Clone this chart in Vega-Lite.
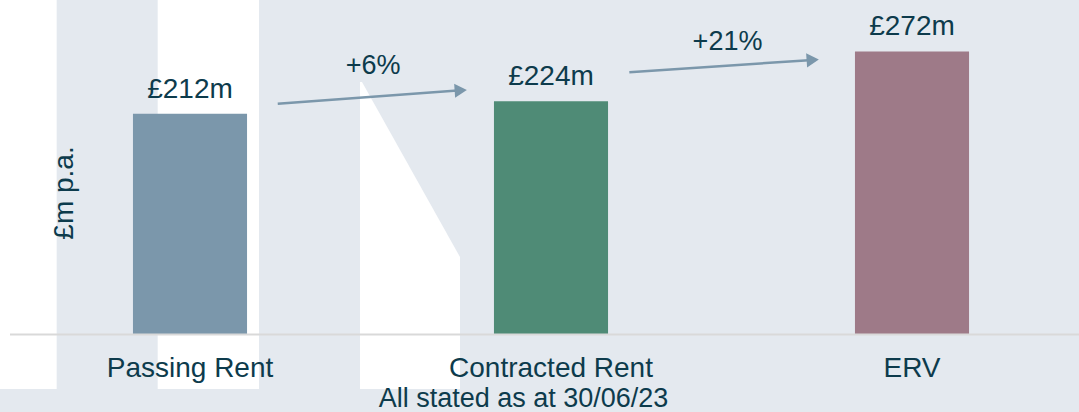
{
  "$schema": "https://vega.github.io/schema/vega-lite/v6.json",
  "width": 1079,
  "height": 334,
  "autosize": "none",
  "padding": {"left": 0, "top": 0, "right": 0, "bottom": 78},
  "background": "#e4e9ef",
  "config": {"view": {"stroke": null}, "font": "Liberation Sans"},
  "datasets": {
    "bars": [
      {"category": "Passing Rent", "value": 212, "label": "£212m"},
      {"category": "Contracted Rent", "value": 224, "label": "£224m"},
      {"category": "ERV", "value": 272, "label": "£272m"}
    ],
    "decor": [
      {"x0": -0.05, "x1": 0.1307, "y0": -53.0, "y1": 322},
      {"x0": 0.4105, "x1": 0.6911, "y0": -53.0, "y1": 322}
    ],
    "wedge": [
      {"x": 0.9709, "top": 242.6, "bottom": -53.0},
      {"x": 0.9765, "top": 242.6, "bottom": -53.0},
      {"x": 1.2479, "top": 74.1, "bottom": -53.0}
    ],
    "arrows": [
      {"x0": 0.743, "y0": 221.7, "x1": 1.250, "y1": 234.6, "lx": 1.007, "ly": 250.0, "label": "+6%"},
      {"x0": 1.717, "y0": 252.0, "x1": 2.225, "y1": 263.9, "lx": 1.989, "ly": 273.4, "label": "+21%"}
    ]
  },
  "resolve": {"scale": {"x": "independent"}, "axis": {"y": "independent", "x": "independent"}},
  "layer": [
    {
      "data": {"name": "decor"},
      "mark": {"type": "rect", "color": "#ffffff"},
      "encoding": {
        "x": {"field": "x0", "type": "quantitative", "scale": {"domain": [0, 3], "range": [9.5, 1092.5], "nice": false, "zero": false}, "axis": null},
        "x2": {"field": "x1"},
        "y": {"field": "y0", "type": "quantitative", "scale": {"domain": [0, 321.6], "nice": false, "zero": false}, "axis": null},
        "y2": {"field": "y1"}
      }
    },
    {
      "data": {"name": "wedge"},
      "mark": {"type": "area", "color": "#ffffff", "orient": "vertical"},
      "encoding": {
        "x": {"field": "x", "type": "quantitative", "scale": {"domain": [0, 3], "range": [9.5, 1092.5], "nice": false, "zero": false}, "axis": null},
        "y": {"field": "top", "type": "quantitative", "scale": {"domain": [0, 321.6], "nice": false, "zero": false}, "axis": null},
        "y2": {"field": "bottom"}
      }
    },
    {
      "data": {"name": "bars"},
      "encoding": {
        "x": {
          "field": "category", "type": "nominal", "sort": null,
          "scale": {"range": [9.5, 1092.5], "paddingInner": 0.684, "paddingOuter": 0.342},
          "axis": {
            "title": "All stated as at 30/06/23",
            "titleX": 523, "titleY": 72.7, "titleBaseline": "alphabetic", "titleAlign": "center",
            "titleFontSize": 27, "titleFontWeight": "normal", "titleColor": "#0d3b4c", "titleFont": "Liberation Sans",
            "labelAngle": 0, "labelFontSize": 28, "labelColor": "#0d3b4c", "labelFont": "Liberation Sans",
            "labelPadding": 42.7, "labelBaseline": "alphabetic", "labelLimit": 500, "labelOverlap": false,
            "ticks": false, "domainColor": "#d9d9d9", "domainWidth": 2, "zindex": 1
          }
        },
        "y": {
          "field": "value", "type": "quantitative",
          "scale": {"domain": [0, 321.6], "nice": false, "zero": false},
          "axis": {
            "title": "£m p.a.", "domain": false, "ticks": false, "labels": false, "grid": false,
            "titleX": 72, "titleY": 192.5, "titleAngle": 270, "titleAlign": "center", "titleBaseline": "alphabetic",
            "titleFontSize": 28, "titleFontWeight": "normal", "titleColor": "#0d3b4c", "titleFont": "Liberation Sans", "zindex": 1
          }
        }
      },
      "layer": [
        {
          "mark": {"type": "bar"},
          "encoding": {
            "color": {
              "field": "category", "type": "nominal", "sort": null,
              "scale": {"domain": ["Passing Rent", "Contracted Rent", "ERV"], "range": ["#7b97ab", "#4f8b76", "#9e7a88"]},
              "legend": null
            }
          }
        },
        {
          "mark": {"type": "text", "dy": -16.3, "baseline": "alphabetic", "align": "center", "fontSize": 28, "color": "#0d3b4c", "font": "Liberation Sans"},
          "encoding": {
            "text": {"field": "label"}
          }
        }
      ]
    },
    {
      "data": {"name": "arrows"},
      "layer": [
        {
          "mark": {"type": "rule", "color": "#7b97ab", "strokeWidth": 2.5},
          "encoding": {
            "x": {"field": "x0", "type": "quantitative", "scale": {"domain": [0, 3], "range": [9.5, 1092.5], "nice": false, "zero": false}, "axis": null},
            "x2": {"field": "x1"},
            "y": {"field": "y0", "type": "quantitative", "scale": {"domain": [0, 321.6], "nice": false, "zero": false}, "axis": null},
            "y2": {"field": "y1"}
          }
        },
        {
          "mark": {"type": "point", "shape": "triangle-right", "filled": true, "size": 200, "angle": 356, "color": "#7b97ab", "opacity": 1},
          "encoding": {
            "x": {"field": "x1", "type": "quantitative", "scale": {"domain": [0, 3], "range": [9.5, 1092.5], "nice": false, "zero": false}, "axis": null},
            "y": {"field": "y1", "type": "quantitative", "scale": {"domain": [0, 321.6], "nice": false, "zero": false}, "axis": null}
          }
        },
        {
          "mark": {"type": "text", "baseline": "alphabetic", "align": "center", "fontSize": 27, "color": "#0d3b4c", "font": "Liberation Sans"},
          "encoding": {
            "x": {"field": "lx", "type": "quantitative", "scale": {"domain": [0, 3], "range": [9.5, 1092.5], "nice": false, "zero": false}, "axis": null},
            "y": {"field": "ly", "type": "quantitative", "scale": {"domain": [0, 321.6], "nice": false, "zero": false}, "axis": null},
            "text": {"field": "label"}
          }
        }
      ]
    }
  ]
}
